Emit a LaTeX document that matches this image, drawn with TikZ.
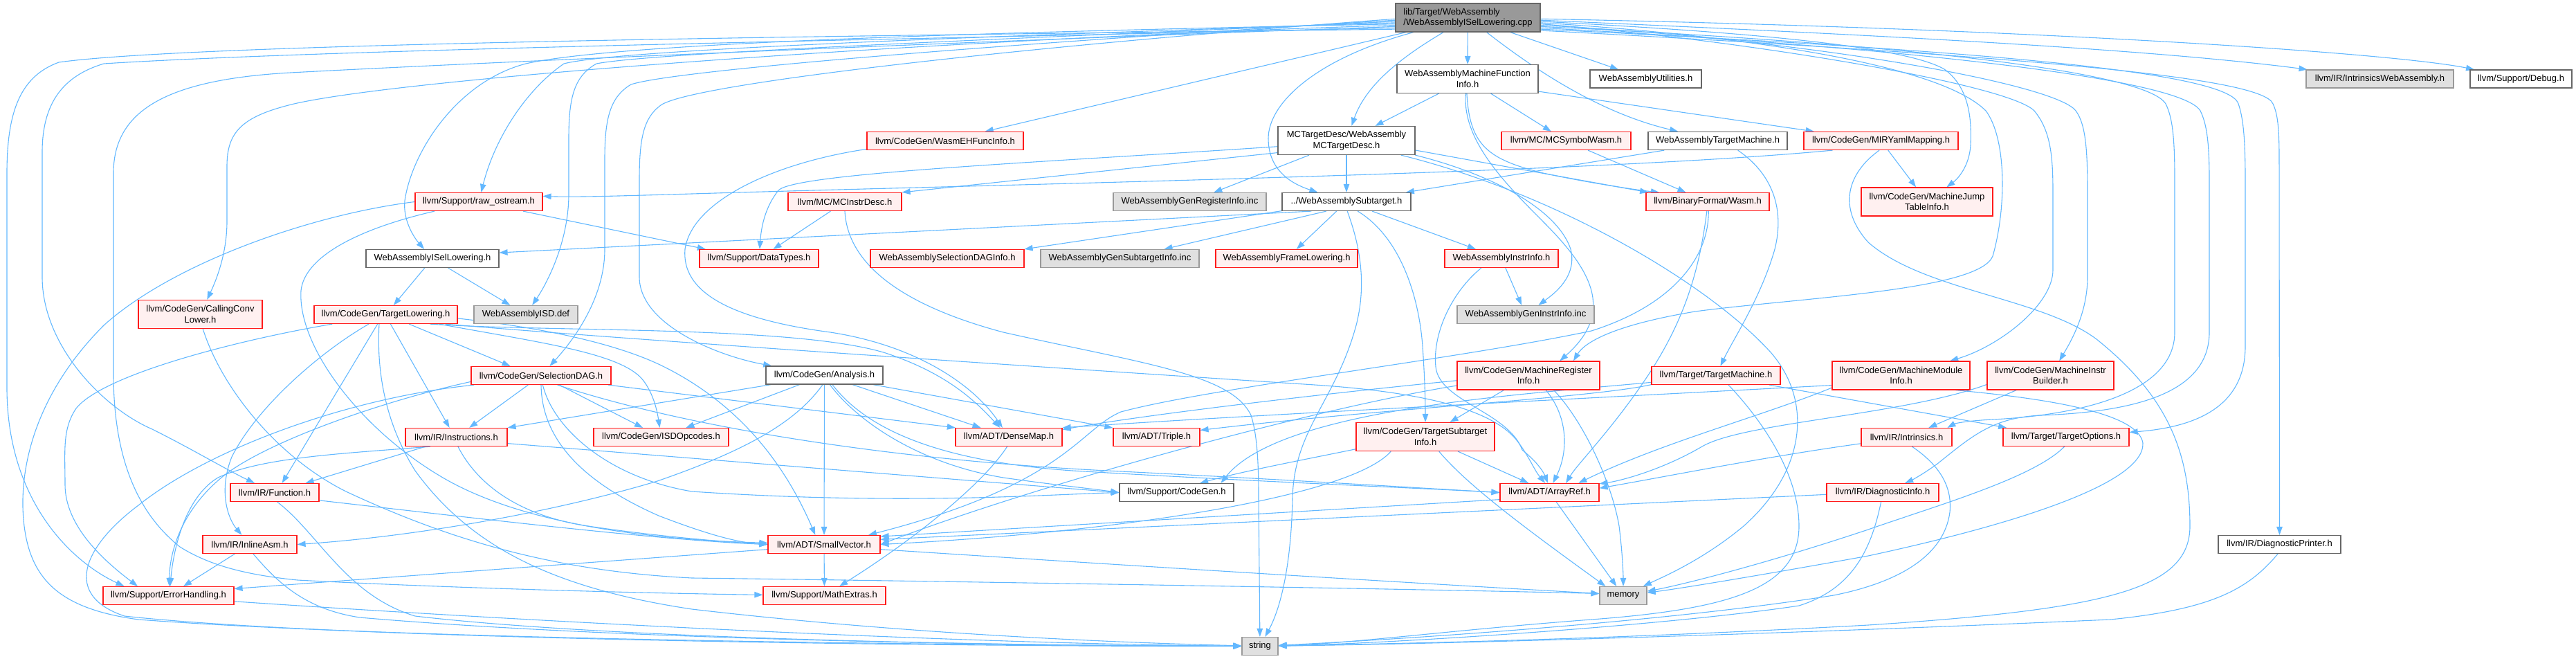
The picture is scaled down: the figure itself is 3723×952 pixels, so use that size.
\documentclass[tikz,border=0pt]{standalone}
\usepackage{fontspec}
\setmainfont{Liberation Sans}
\usetikzlibrary{arrows.meta}
\definecolor{edgec}{HTML}{63B8FF}
\definecolor{redb}{HTML}{FF1A1A}
\definecolor{redf}{HTML}{FFF0F0}
\definecolor{greyb}{HTML}{999999}
\definecolor{greyf}{HTML}{E0E0E0}
\definecolor{darkb}{HTML}{666666}
\definecolor{rootf}{HTML}{999999}
\newcommand{\nfont}{\fontsize{13}{15.5}\selectfont}
\pgfdeclarelayer{bg}
\pgfsetlayers{bg,main}
\tikzset{
  box/.style={draw, line width=1.2pt, inner sep=0pt, align=center, font=\nfont, text=black},
  rbox/.style={box, draw=redb, fill=redf},
  wbox/.style={box, draw=darkb, fill=white},
  gbox/.style={box, draw=greyb, fill=greyf},
  rootbox/.style={box, draw=darkb, fill=rootf, align=left},
  one/.style={minimum height=26pt},
  two/.style={minimum height=41pt},
  edge/.style={draw=edgec, line width=1.1pt, -{Triangle[length=12pt,width=8.5pt]}},
}
\begin{document}
\begin{tikzpicture}[x=1pt,y=-1pt]
\useasboundingbox (0,0) rectangle (3723,952);
% ---------- nodes ----------
\node[rootbox, two, minimum width=209pt] (root) at (2121.5,25.5) {lib/Target/WebAssembly\\/WebAssemblyISelLowering.cpp};
\node[wbox, two, minimum width=204pt] (mfi) at (2121,114) {WebAssemblyMachineFunction\\Info.h};
\node[wbox, one, minimum width=161pt] (util) at (2378.5,114) {WebAssemblyUtilities.h};
\node[gbox, one, minimum width=213pt] (intrwa) at (3439.5,114) {llvm/IR/IntrinsicsWebAssembly.h};
\node[wbox, one, minimum width=147pt] (debug) at (3643.5,114) {llvm/Support/Debug.h};
\node[rbox, one, minimum width=226pt] (wasmeh) at (1366,203.5) {llvm/CodeGen/WasmEHFuncInfo.h};
\node[wbox, two, minimum width=198pt] (mctd) at (1946,203) {MCTargetDesc/WebAssembly\\MCTargetDesc.h};
\node[rbox, one, minimum width=187pt] (mcsym) at (2263.5,203.5) {llvm/MC/MCSymbolWasm.h};
\node[wbox, one, minimum width=201pt] (watm) at (2482.5,203.5) {WebAssemblyTargetMachine.h};
\node[rbox, one, minimum width=223pt] (mir) at (2718.5,203.5) {llvm/CodeGen/MIRYamlMapping.h};
\node[rbox, one, minimum width=184pt] (rawos) at (692,291.5) {llvm/Support/raw\_ostream.h};
\node[rbox, one, minimum width=164pt] (mcid) at (1221,291.5) {llvm/MC/MCInstrDesc.h};
\node[gbox, one, minimum width=221pt] (genreg) at (1719.5,291.5) {WebAssemblyGenRegisterInfo.inc};
\node[wbox, one, minimum width=186pt] (sub) at (1946,291.5) {../WebAssemblySubtarget.h};
\node[rbox, one, minimum width=178pt] (bfw) at (2468,291.5) {llvm/BinaryFormat/Wasm.h};
\node[rbox, two, minimum width=190pt] (mjt) at (2785,291.5) {llvm/CodeGen/MachineJump\\TableInfo.h};
\node[wbox, one, minimum width=192pt] (isell) at (625,373.5) {WebAssemblyISelLowering.h};
\node[rbox, one, minimum width=172pt] (dt) at (1097,373.5) {llvm/Support/DataTypes.h};
\node[rbox, one, minimum width=222pt] (sdinfo) at (1369,373.5) {WebAssemblySelectionDAGInfo.h};
\node[gbox, one, minimum width=229pt] (gensub) at (1618.5,373.5) {WebAssemblyGenSubtargetInfo.inc};
\node[rbox, one, minimum width=205pt] (frame) at (1859.5,373.5) {WebAssemblyFrameLowering.h};
\node[rbox, one, minimum width=164pt] (instr) at (2170,373.5) {WebAssemblyInstrInfo.h};
\node[rbox, two, minimum width=179pt] (ccl) at (289.5,454) {llvm/CodeGen/CallingConv\\Lower.h};
\node[rbox, one, minimum width=207pt] (tl) at (557.5,454.5) {llvm/CodeGen/TargetLowering.h};
\node[gbox, one, minimum width=150pt] (isd) at (760,454.5) {WebAssemblyISD.def};
\node[gbox, one, minimum width=198pt] (geninstr) at (2205,454.5) {WebAssemblyGenInstrInfo.inc};
\node[rbox, one, minimum width=202pt] (sdag) at (782,542.5) {llvm/CodeGen/SelectionDAG.h};
\node[wbox, one, minimum width=169pt] (ana) at (1191.5,542) {llvm/CodeGen/Analysis.h};
\node[rbox, two, minimum width=206pt] (mri) at (2209,542.5) {llvm/CodeGen/MachineRegister\\Info.h};
\node[rbox, one, minimum width=186pt] (tm) at (2480,542.5) {llvm/Target/TargetMachine.h};
\node[rbox, two, minimum width=199pt] (mmi) at (2747.5,542.5) {llvm/CodeGen/MachineModule\\Info.h};
\node[rbox, two, minimum width=183pt] (mib) at (2963.5,542.5) {llvm/CodeGen/MachineInstr\\Builder.h};
\node[rbox, one, minimum width=147pt] (insts) at (659.5,631.5) {llvm/IR/Instructions.h};
\node[rbox, one, minimum width=195pt] (isdop) at (955.5,631.5) {llvm/CodeGen/ISDOpcodes.h};
\node[rbox, one, minimum width=154pt] (dm) at (1458,631.5) {llvm/ADT/DenseMap.h};
\node[rbox, one, minimum width=125pt] (triple) at (1671.5,631.5) {llvm/ADT/Triple.h};
\node[rbox, two, minimum width=200pt] (tsi) at (2060,631) {llvm/CodeGen/TargetSubtarget\\Info.h};
\node[rbox, one, minimum width=131pt] (intr) at (2755.5,631.5) {llvm/IR/Intrinsics.h};
\node[rbox, one, minimum width=182pt] (topt) at (2986,631.5) {llvm/Target/TargetOptions.h};
\node[rbox, one, minimum width=128pt] (func) at (397,711.5) {llvm/IR/Function.h};
\node[wbox, one, minimum width=165pt] (cg) at (1700.5,711.5) {llvm/Support/CodeGen.h};
\node[rbox, one, minimum width=143pt] (ar) at (2239.5,711.5) {llvm/ADT/ArrayRef.h};
\node[rbox, one, minimum width=162pt] (diag) at (2721,711.5) {llvm/IR/DiagnosticInfo.h};
\node[rbox, one, minimum width=136pt] (iasm) at (361,786.5) {llvm/IR/InlineAsm.h};
\node[rbox, one, minimum width=162pt] (sv) at (1191,786.5) {llvm/ADT/SmallVector.h};
\node[wbox, one, minimum width=177pt] (dprint) at (3294.5,786.5) {llvm/IR/DiagnosticPrinter.h};
\node[rbox, one, minimum width=189pt] (eh) at (243.5,860.5) {llvm/Support/ErrorHandling.h};
\node[rbox, one, minimum width=177pt] (me) at (1191.5,860.5) {llvm/Support/MathExtras.h};
\node[gbox, one, minimum width=68pt] (mem) at (2346,860.5) {memory};
\node[gbox, one, minimum width=52pt] (str) at (1821,933.5) {string};
% ---------- edges ----------
\begin{pgfonlayer}{bg}
% root
\draw[edge] (root) -- (mfi);
\draw[edge] (root) -- (util);
\draw[edge] (root) .. controls (2230,110) and (2320,165) .. (watm);
\draw[edge] (root) .. controls (2030,80) and (1975,120) .. (mctd);
\draw[edge] (root) .. controls (1900,85) and (1833,150) .. (1833,200) .. controls (1833,245) and (1865,265) .. (sub);
\draw[edge] (root) -- (wasmeh);
\draw[edge] (root.185) .. controls (1500,45) and (900,60) .. (760,92) .. controls (660,118) and (595,220) .. (585,290) .. controls (582,320) and (600,345) .. (isell);
\draw[edge] (root.184) .. controls (1500,50) and (900,70) .. (815,92) .. controls (760,130) and (715,200) .. (rawos);
\draw[edge] (root.183) .. controls (1500,55) and (950,75) .. (862,92) .. controls (830,110) and (822,140) .. (822,200) -- (822,280) .. controls (822,350) and (790,410) .. (isd);
\draw[edge] (root.182) .. controls (1500,60) and (980,100) .. (912,122) .. controls (882,140) and (874,170) .. (874,230) -- (874,360) .. controls (874,430) and (830,490) .. (sdag);
\draw[edge] (root.181) .. controls (1500,65) and (1000,120) .. (955,152) .. controls (930,170) and (924,200) .. (924,260) -- (924,400) .. controls (924,470) and (1040,515) .. (ana);
\draw[edge] (root.186) .. controls (1400,55) and (600,110) .. (425,150) .. controls (350,168) and (328,190) .. (328,240) -- (328,320) .. controls (328,370) and (310,410) .. (ccl);
\draw[edge] (root.187) .. controls (1400,60) and (700,90) .. (420,105) .. controls (240,115) and (164,160) .. (164,250) -- (164,540) .. controls (164,680) and (210,750) .. (260,790) .. controls (300,815) and (350,830) .. (430,838) .. controls (700,852) and (1000,858) .. (me);
\draw[edge] (root.188) .. controls (1400,55) and (500,70) .. (150,92) .. controls (90,110) and (61,150) .. (61,220) -- (61,400) .. controls (61,500) and (150,590) .. (220,620) .. controls (280,650) and (330,680) .. (func);
\draw[edge] (root.189) .. controls (1400,50) and (300,60) .. (85,90) .. controls (30,110) and (10,160) .. (10,250) -- (10,560) .. controls (10,720) and (100,810) .. (eh.168);
\draw[edge] (root.-2) .. controls (2700,50) and (3100,70) .. (intrwa);
\draw[edge] (root.-1) .. controls (2900,40) and (3450,75) .. (debug);
\draw[edge] (root.-3) .. controls (2500,45) and (2750,65) .. (2810,100) .. controls (2845,125) and (2850,170) .. (2848,210) .. controls (2846,240) and (2830,258) .. (mjt);
\draw[edge] (root.-4) .. controls (2500,50) and (2800,90) .. (2870,160) .. controls (2900,200) and (2900,300) .. (2880,370) .. controls (2860,420) and (2600,430) .. (2450,450) .. controls (2330,470) and (2290,495) .. (mri.18);
\draw[edge] (root.-5) .. controls (2500,55) and (2900,120) .. (2940,160) .. controls (2965,190) and (2967,230) .. (2967,280) -- (2967,390) .. controls (2967,440) and (2890,500) .. (mmi);
\draw[edge] (root.-6) .. controls (2600,55) and (2970,120) .. (3000,160) .. controls (3015,180) and (3017,220) .. (3017,280) -- (3017,400) .. controls (3017,450) and (2995,490) .. (mib);
\draw[edge] (root.-7) .. controls (2700,60) and (3100,100) .. (3130,150) .. controls (3140,170) and (3143,200) .. (3143,260) -- (3143,480) .. controls (3143,570) and (3000,600) .. (2880,606) .. controls (2840,608) and (2825,612) .. (intr.13);
\draw[edge] (root.-8) .. controls (2700,65) and (3150,110) .. (3180,160) .. controls (3190,180) and (3193,210) .. (3193,260) -- (3193,480) .. controls (3193,570) and (3080,595) .. (2950,600) .. controls (2880,603) and (2850,630) .. (2800,670) .. controls (2775,688) and (2760,695) .. (diag);
\draw[edge] (root.-9) .. controls (2800,70) and (3220,100) .. (3235,150) .. controls (3242,170) and (3245,200) .. (3245,260) -- (3245,500) .. controls (3245,570) and (3200,615) .. (topt);
\draw[edge] (root.-10) .. controls (2900,80) and (3270,110) .. (3285,150) .. controls (3292,165) and (3294,185) .. (3294,230) -- (dprint);
% mfi
\draw[edge] (mfi) -- (mctd);
\draw[edge] (mfi) -- (mcsym);
\draw[edge] (mfi.-10) -- (mir.172);
\draw[edge] (mfi.-93) .. controls (2124,210) and (2150,230) .. (2230,250) .. controls (2300,265) and (2370,275) .. (bfw.169);
\draw[edge] (mfi.-97) .. controls (2113,200) and (2170,260) .. (2230,320) .. controls (2300,390) and (2335,450) .. (mri.25);
% mctd
\draw[edge] (mctd) -- (sub);
\draw[edge] (mctd) -- (genreg);
\draw[edge] (mctd.-170) -- (mcid.north east);
\draw[edge] (mctd.-175) .. controls (1500,235) and (1150,250) .. (1125,275) .. controls (1105,300) and (1100,330) .. (dt);
\draw[edge] (mctd.-8) -- (bfw.171);
\draw[edge] (mctd.-12) .. controls (2150,250) and (2250,300) .. (2270,360) .. controls (2280,400) and (2245,425) .. (geninstr);
\draw[edge] (mctd.-15) .. controls (2250,280) and (2470,410) .. (2560,510) .. controls (2620,580) and (2610,680) .. (2520,760) .. controls (2460,810) and (2400,835) .. (mem);
% sub
\draw[edge] (sub.-165) -- (isell.5);
\draw[edge] (sub.-172) -- (sdinfo.north east);
\draw[edge] (sub.-155) -- (gensub.12);
\draw[edge] (sub) -- (frame);
\draw[edge] (sub) -- (instr);
\draw[edge] (sub.-40) .. controls (2020,340) and (2050,420) .. (2056,500) .. controls (2060,560) and (2060,590) .. (tsi);
\draw[edge] (sub.-85) .. controls (1960,340) and (1978,400) .. (1960,470) .. controls (1930,580) and (1870,620) .. (1868,720) .. controls (1866,820) and (1850,880) .. (str);
% mcsym, watm
\draw[edge] (mcsym) -- (bfw);
\draw[edge] (watm.-170) -- (sub.9);
\draw[edge] (watm.-25) .. controls (2560,250) and (2580,300) .. (2565,360) .. controls (2545,430) and (2505,490) .. (tm);
% mir
\draw[edge] (mir.-169) .. controls (2300,250) and (1500,265) .. (1000,280) .. controls (900,283) and (830,285) .. (rawos.5);
\draw[edge] (mir) -- (mjt);
\draw[edge] (mir.-100) .. controls (2670,250) and (2655,300) .. (2700,350) .. controls (2780,420) and (2950,430) .. (3030,490) .. controls (3130,570) and (3165,650) .. (3165,760) .. controls (3165,850) and (3050,880) .. (2700,903) .. controls (2300,925) and (2000,930) .. (str);
% rawos
\draw[edge] (rawos.-12) -- (dt.170);
\draw[edge] (rawos.-168) .. controls (520,330) and (440,370) .. (435,420) .. controls (430,500) and (520,620) .. (640,690) .. controls (760,760) and (950,780) .. (sv);
\draw[edge] (rawos.west) .. controls (450,310) and (250,380) .. (150,470) .. controls (50,570) and (25,680) .. (35,760) .. controls (45,840) and (90,880) .. (200,895) .. controls (600,925) and (1400,932) .. (str);
% mcid
\draw[edge] (mcid) -- (dt);
\draw[edge] (mcid.-90) .. controls (1225,380) and (1300,440) .. (1450,480) .. controls (1650,525) and (1780,540) .. (1808,600) .. controls (1818,630) and (1819,680) .. (1819,720) -- (str);
% isell, ccl
\draw[edge] (isell) -- (tl);
\draw[edge] (isell) -- (isd);
\draw[edge] (ccl.-80) .. controls (320,560) and (400,660) .. (500,710) .. controls (650,780) and (800,825) .. (1000,835) .. controls (1400,840) and (2100,852) .. (mem.175);
% tl
\draw[edge] (tl.-170) .. controls (350,490) and (150,540) .. (110,590) .. controls (90,620) and (94,650) .. (94,700) .. controls (94,760) and (150,810) .. (eh.163);
\draw[edge] (tl.-151) .. controls (460,510) and (370,590) .. (335,660) .. controls (315,710) and (330,750) .. (iasm);
\draw[edge] (tl.-131) -- (func.52);
\draw[edge] (tl.-63) -- (insts.126);
\draw[edge] (tl.-22) -- (sdag.163);
\draw[edge] (tl.-10) .. controls (780,495) and (900,510) .. (930,550) .. controls (945,570) and (950,595) .. (isdop);
\draw[edge] (tl.-12) .. controls (800,480) and (1150,470) .. (1280,510) .. controls (1370,540) and (1410,580) .. (dm);
\draw[edge] (tl.-9) .. controls (900,490) and (1500,530) .. (1900,556) .. controls (2050,566) and (2160,590) .. (2195,640) .. controls (2210,660) and (2218,680) .. (ar.115);
\draw[edge] (tl.-3) .. controls (800,475) and (900,500) .. (960,530) .. controls (1060,580) and (1130,660) .. (sv.133);
\draw[edge] (tl.-125) .. controls (545,520) and (550,600) .. (600,680) .. controls (680,790) and (800,850) .. (1000,880) .. controls (1300,915) and (1600,928) .. (str);
% sdag
\draw[edge] (sdag) -- (insts);
\draw[edge] (sdag) -- (isdop);
\draw[edge] (sdag.-8) -- (dm.170);
\draw[edge] (sdag.-30) .. controls (1000,620) and (1300,665) .. (1600,680) .. controls (1900,695) and (2050,705) .. (ar.west);
\draw[edge] (sdag.-90) .. controls (783,640) and (850,700) .. (952,745) .. controls (1030,775) and (1070,784) .. (sv.west);
\draw[edge] (sdag.-80) .. controls (800,620) and (880,690) .. (1000,710) .. controls (1300,730) and (1500,715) .. (cg.west);
\draw[edge] (sdag.-175) .. controls (550,580) and (380,640) .. (320,690) .. controls (260,740) and (245,800) .. (eh.85);
\draw[edge] (sdag.-172) .. controls (500,575) and (300,650) .. (200,730) .. controls (120,790) and (90,860) .. (180,890) .. controls (500,925) and (1400,934) .. (str);
% ana
\draw[edge] (ana) -- (isdop);
\draw[edge] (ana) -- (dm);
\draw[edge] (ana.-11) -- (triple.168);
\draw[edge] (ana) -- (sv);
\draw[edge] (ana.-100) .. controls (1150,610) and (1080,650) .. (950,695) .. controls (800,740) and (600,775) .. (iasm.east);
\draw[edge] (ana.-170) -- (insts.north east);
\draw[edge] (ana.-60) .. controls (1240,610) and (1330,670) .. (1450,690) .. controls (1520,700) and (1570,705) .. (cg.west);
\draw[edge] (ana.-50) .. controls (1260,630) and (1380,668) .. (1550,680) .. controls (1800,695) and (2050,705) .. (ar.west);
% insts
\draw[edge] (insts) -- (func);
\draw[edge] (insts.-160) .. controls (500,655) and (380,660) .. (315,690) .. controls (265,720) and (250,800) .. (eh.80);
\draw[edge] (insts.-7) -- (cg.west);
\draw[edge] (insts.-80) .. controls (690,700) and (750,745) .. (850,760) .. controls (950,775) and (1050,783) .. (sv.west);
% func, iasm, eh
\draw[edge] (func.-10) .. controls (700,750) and (950,780) .. (sv.west);
\draw[edge] (func.-75) .. controls (460,770) and (500,860) .. (600,890) .. controls (900,925) and (1500,933) .. (str);
\draw[edge] (iasm) -- (eh);
\draw[edge] (iasm.-70) .. controls (400,840) and (440,880) .. (520,892) .. controls (900,925) and (1500,933) .. (str);
\draw[edge] (eh.-5) .. controls (800,900) and (1400,930) .. (str);
% sv, dm, ar
\draw[edge] (sv) -- (me);
\draw[edge] (sv.-5) .. controls (1600,815) and (2000,840) .. (mem.175);
\draw[edge] (sv.-175) -- (eh.6);
\draw[edge] (dm.-100) .. controls (1420,700) and (1320,780) .. (me);
\draw[edge] (ar) -- (mem);
\draw[edge] (ar.-172) -- (sv.8);
% tsi
\draw[edge] (tsi) -- (ar);
\draw[edge] (tsi.-47) .. controls (2120,700) and (2200,760) .. (mem.152);
\draw[edge] (tsi.-157) .. controls (1950,720) and (1600,770) .. (sv.east);
\draw[edge] (tsi.-170) .. controls (1880,665) and (1800,680) .. (cg.22);
% tm
\draw[edge] (tm.-172) .. controls (2300,575) and (2000,590) .. (triple.9);
\draw[edge] (tm.-174) .. controls (2200,570) and (1850,590) .. (cg.12);
\draw[edge] (tm.-10) -- (topt.171);
\draw[edge] (tm.-37) .. controls (2540,600) and (2600,680) .. (2600,760) .. controls (2600,850) and (2500,880) .. (2300,895) .. controls (2100,910) and (1950,930) .. (str);
% mmi
\draw[edge] (mmi.-172) .. controls (2300,575) and (1800,600) .. (dm.north east);
\draw[edge] (mmi.-170) .. controls (2550,600) and (2400,640) .. (ar.18);
\draw[edge] (mmi.-15) .. controls (2950,575) and (3090,595) .. (3097,640) .. controls (3100,700) and (2900,760) .. (2700,803) .. controls (2550,830) and (2430,850) .. (mem);
% mib
\draw[edge] (mib) -- (intr);
\draw[edge] (mib.-172) .. controls (2750,600) and (2520,610) .. (2460,645) .. controls (2400,680) and (2340,695) .. (ar.10);
% intr, diag, dprint, topt
\draw[edge] (intr.-172) .. controls (2550,660) and (2400,690) .. (ar.5);
\draw[edge] (intr.-60) .. controls (2800,670) and (2822,700) .. (2818,740) .. controls (2810,800) and (2750,840) .. (2650,860) .. controls (2400,900) and (2000,925) .. (str);
\draw[edge] (diag.-178) -- (sv.5);
\draw[edge] (diag.-100) .. controls (2705,790) and (2680,850) .. (2600,875) .. controls (2400,905) and (2000,930) .. (str);
\draw[edge] (dprint.-100) .. controls (3250,850) and (3200,880) .. (3050,895) .. controls (2600,915) and (2100,930) .. (str);
\draw[edge] (topt.-100) .. controls (2940,690) and (2800,730) .. (2700,765) .. controls (2550,815) and (2430,845) .. (mem);
% wasmeh
\draw[edge] (wasmeh.-174) .. controls (1120,235) and (1000,290) .. (990,360) .. controls (985,420) and (1050,460) .. (1200,480) .. controls (1330,500) and (1410,560) .. (dm);
% bfw
\draw[edge] (bfw.-95) .. controls (2455,400) and (2430,470) .. (2380,545) .. controls (2330,620) and (2280,670) .. (ar.30);
\draw[edge] (bfw.-85) .. controls (2470,370) and (2420,440) .. (2300,478) .. controls (2100,520) and (1750,560) .. (1620,595) .. controls (1560,620) and (1540,700) .. (sv.12);
% instr
\draw[edge] (instr) -- (geninstr);
\draw[edge] (instr.-155) .. controls (2100,420) and (2070,480) .. (2075,530) .. controls (2080,580) and (2180,595) .. (2200,650) .. controls (2225,670) and (2232,685) .. (ar.100);
% mri
\draw[edge] (mri) -- (tsi);
\draw[edge] (mri.-40) .. controls (2265,600) and (2268,650) .. (ar.70);
\draw[edge] (mri.-30) .. controls (2290,610) and (2330,700) .. (2340,760) .. controls (2345,800) and (2346,830) .. (mem);
\draw[edge] (mri.-172) .. controls (1900,590) and (1500,700) .. (sv.east);
\draw[edge] (mri.-176) .. controls (1900,570) and (1650,600) .. (dm.8);
\end{pgfonlayer}
\end{tikzpicture}
\end{document}
